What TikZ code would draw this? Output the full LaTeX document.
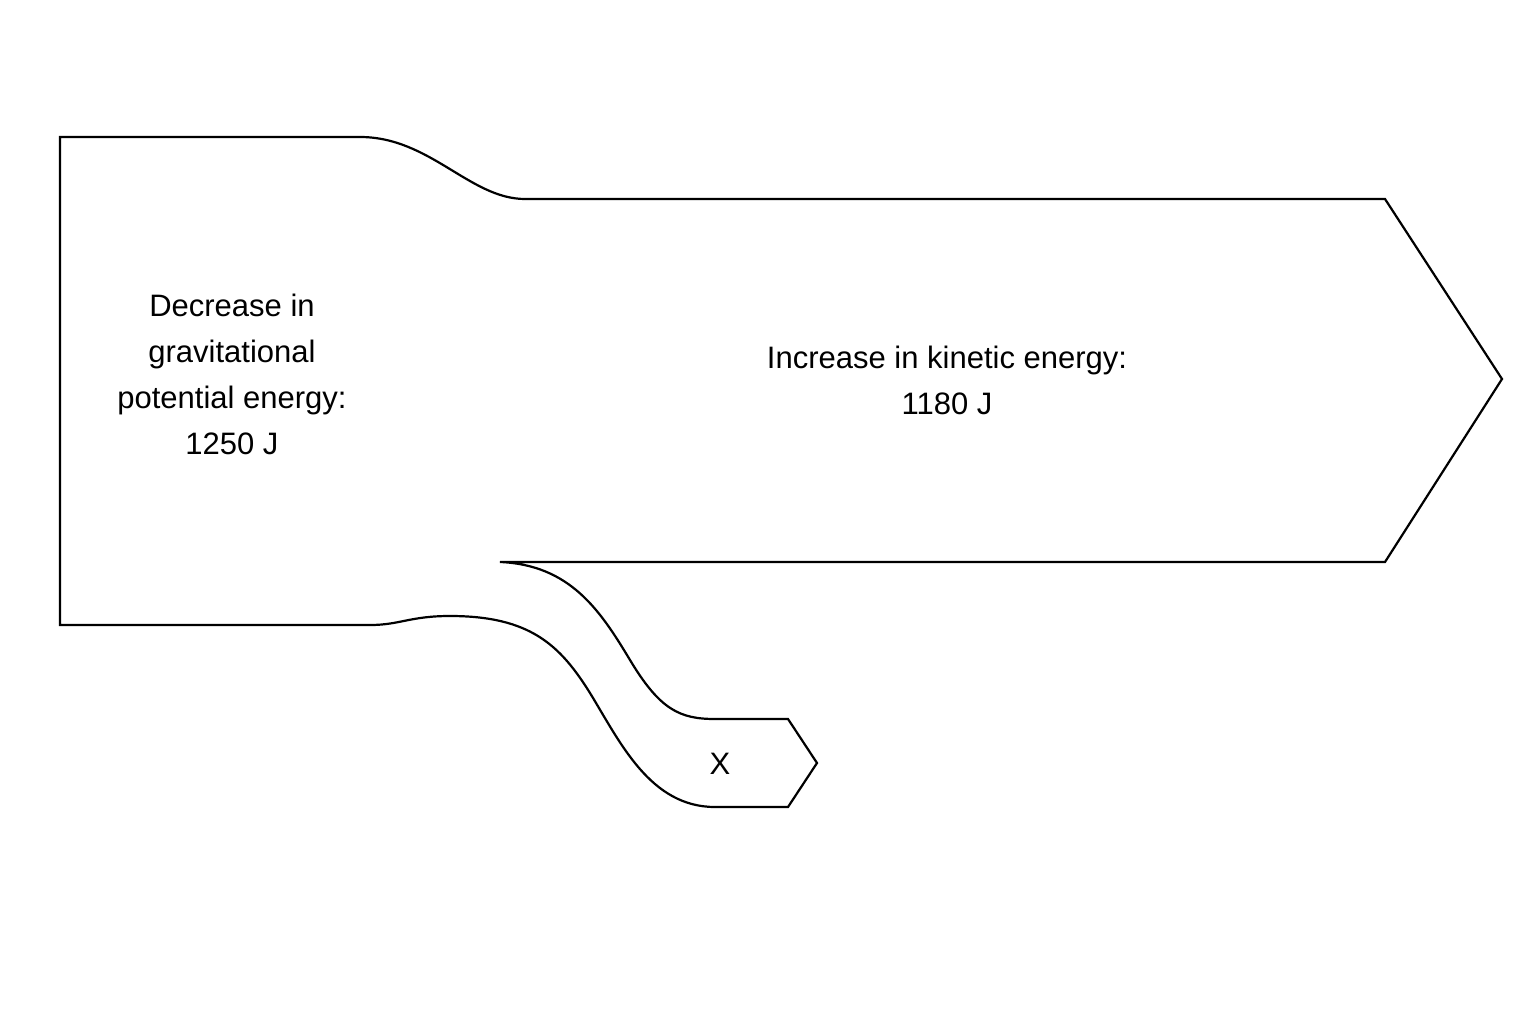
\documentclass[tikz,border=0pt]{standalone}
\usepackage{fontspec}
\setmainfont{Liberation Sans}
\begin{document}
\begin{tikzpicture}[x=1pt,y=-1pt,
  flow/.style={draw=black,line width=2.2pt,line join=miter,fill=white},
  lbl/.style={align=center,font=\fontsize{31}{46}\selectfont,inner sep=0pt}]
\useasboundingbox (0,0) rectangle (1536,1024);
\draw[flow] (60,137) -- (360,137)
  .. controls (430,137) and (470,199) .. (525,199)
  -- (1385,199) -- (1502,379) -- (1385,562) -- (500,562)
  .. controls (570,565) and (600,610) .. (630,660)
  .. controls (660,710) and (680,719) .. (715,719)
  -- (788,719) -- (817,763) -- (788,807) -- (715,807)
  .. controls (650,807) and (620,742) .. (590,693)
  .. controls (560,645) and (530,616) .. (450,616)
  .. controls (410,616) and (400,625) .. (370,625)
  -- (60,625) -- cycle;
\node[lbl] (gpe) at (232,374) {Decrease in\\gravitational\\potential energy:\\1250 J};
\node[lbl] (ke) at (947,380) {Increase in kinetic energy:\\1180 J};
\node[lbl] (x) at (720,764) {X};
\end{tikzpicture}
\end{document}
